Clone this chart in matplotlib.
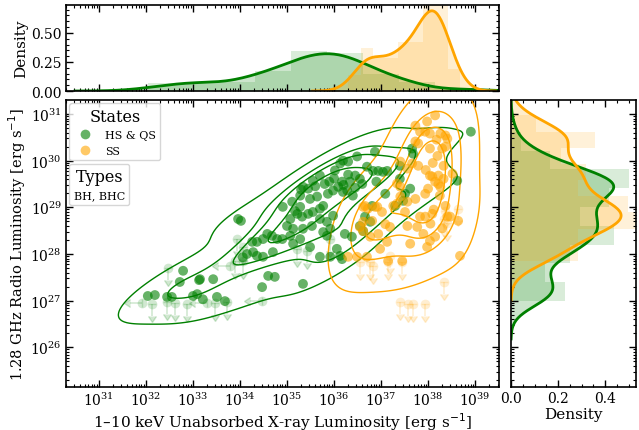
import numpy as np
import matplotlib
matplotlib.use("Agg")
import matplotlib.pyplot as plt
import seaborn as sns
from matplotlib.lines import Line2D

plt.rcParams['font.family'] = ['DejaVu Serif']
plt.rcParams['xtick.direction'] = 'in'
plt.rcParams['ytick.direction'] = 'in'
plt.rcParams['xtick.top'] = True
plt.rcParams['ytick.right'] = True
plt.rcParams['xtick.minor.visible'] = True
plt.rcParams['ytick.minor.visible'] = True

# log10 luminosities
# HS & QS detections
hs_lx = [38.91, 36.87, 37.66, 37.68, 36.19, 36.49, 36.70, 36.83, 36.94, 37.04, 37.13, 36.55, 36.34,
         36.19, 36.40, 37.40, 37.09, 37.62, 37.51, 38.62, 37.40, 36.23, 36.38, 36.55, 36.62, 36.77,
         36.66, 36.81, 37.30, 37.47, 36.17, 33.96, 34.02, 34.91, 35.11, 35.17, 35.28, 35.34, 35.45,
         35.55, 35.70, 35.87, 35.98, 36.09, 36.17, 36.28, 36.02, 36.13, 36.30, 36.45, 35.07, 35.22,
         35.32, 35.45, 35.55, 35.70, 35.77, 35.64, 35.49, 35.00, 35.13, 35.34, 35.53, 35.70, 35.85,
         35.98, 35.92, 34.58, 34.68, 34.79, 34.49, 34.36, 34.26, 34.90, 35.07, 35.13, 35.28, 34.15,
         34.28, 35.49, 35.85, 36.06, 35.92, 34.06, 34.36, 34.49, 34.70, 35.28, 35.77, 35.70, 36.13,
         34.60, 34.74, 34.47, 35.34, 33.51, 33.43, 33.15, 32.79, 32.72, 33.68, 33.00, 33.09, 33.21,
         32.45, 32.55, 33.13, 32.04, 32.19,
         35.90, 36.00, 36.30, 36.60, 35.60, 36.20, 35.80, 36.90, 36.45, 35.30]
hs_ly = [30.62, 30.19, 30.26, 30.15, 30.00, 30.09, 29.87, 29.78, 29.78, 29.76, 29.78, 29.61, 29.55,
         29.33, 29.25, 29.61, 29.29, 29.40, 29.29, 29.57, 29.89, 28.43, 28.37, 28.60, 28.49, 28.69,
         28.80, 29.03, 29.03, 29.14, 27.89, 28.75, 28.71, 29.01, 29.12, 28.92, 29.25, 29.44, 29.40,
         29.57, 29.68, 29.29, 29.36, 29.44, 29.55, 29.36, 29.79, 29.94, 29.98, 29.68, 28.75, 28.86,
         28.80, 28.86, 28.90, 28.97, 29.03, 29.23, 29.18, 28.60, 28.54, 28.54, 28.60, 28.75, 28.69,
         28.82, 28.54, 28.43, 28.39, 28.32, 28.32, 28.26, 28.26, 28.32, 28.39, 28.22, 28.32, 28.00,
         28.04, 28.15, 28.39, 28.11, 27.94, 27.93, 27.96, 27.94, 28.04, 29.01, 28.47, 27.94, 27.96,
         27.53, 27.51, 27.29, 27.36, 27.08, 27.46, 27.46, 27.64, 27.40, 26.99, 27.10, 27.14, 27.03,
         27.08, 27.08, 27.44, 27.10, 27.12,
         29.55, 29.62, 29.70, 29.50, 29.45, 29.48, 29.50, 29.55, 29.42, 29.38]
# HS & QS radio upper limits
hs_ul_lx = [32.47, 32.13, 32.45, 32.62, 32.87, 33.47, 33.72, 33.94, 33.89, 34.06, 34.06, 35.21, 35.43, 35.92]
hs_ul_ly = [27.70, 26.93, 26.97, 26.95, 26.93, 26.95, 26.97, 28.32, 27.85, 27.85, 28.15, 28.11, 28.06, 28.32]
# HS & QS X-ray upper limits
hs_xl_lx = [31.92, 33.30, 33.79, 34.47]
hs_xl_ly = [26.95, 26.95, 27.74, 26.99]

# SS detections
ss_lx = [38.15, 37.98, 37.73, 37.94, 38.04, 38.26, 38.37, 38.41, 37.73, 37.79, 38.37, 38.04, 37.41,
         37.66, 37.79, 38.33, 38.04, 38.09, 38.22, 38.33, 38.52, 38.15, 37.34, 37.94, 37.56, 37.34,
         37.41, 36.87, 36.62, 36.72, 37.02, 37.51, 37.83, 37.94, 38.09, 38.41, 38.64, 36.81, 36.62,
         37.19, 37.56, 37.77, 37.90, 38.04, 38.15, 36.62, 36.55, 36.77, 36.94, 37.13, 37.62, 37.98,
         36.49, 36.70, 37.15, 37.45, 38.68, 36.30, 36.66, 36.92, 37.09, 36.98, 38.37, 38.47, 37.83,
         38.30, 37.56, 37.41, 37.26, 37.73, 38.26,
         38.10, 38.20, 38.00, 38.25, 38.12, 38.30, 37.95, 38.18, 38.05, 38.22]
ss_ly = [30.97, 30.84, 30.75, 30.62, 30.58, 30.58, 30.54, 30.47, 30.41, 30.37, 30.30, 30.26, 29.98,
         29.94, 29.89, 29.89, 29.68, 29.66, 29.68, 29.61, 29.72, 29.55, 29.51, 29.29, 29.12, 29.08,
         29.23, 29.01, 29.01, 28.97, 28.90, 28.90, 28.80, 28.80, 28.86, 28.80, 28.71, 28.71, 28.69,
         28.58, 28.60, 28.58, 28.43, 28.28, 28.37, 28.49, 28.58, 28.37, 28.43, 28.26, 28.22, 28.15,
         27.94, 27.94, 27.85, 27.85, 27.96, 27.94, 29.03, 29.01, 28.64, 28.11, 29.03, 28.80, 30.62,
         30.26, 29.83, 29.44, 29.03, 29.18, 29.44,
         29.95, 30.10, 29.40, 29.25, 28.95, 28.55, 29.80, 30.45, 28.65, 29.50]
# SS radio upper limits
ss_ul_lx = [36.55, 36.77, 36.83, 37.15, 37.45, 37.19, 38.33, 37.41, 37.58, 37.68, 37.94, 38.33, 38.64, 38.37, 38.41]
ss_ul_ly = [27.83, 27.83, 27.74, 27.83, 27.83, 27.96, 27.40, 26.97, 26.93, 26.93, 26.93, 28.75, 28.97, 28.92, 28.66]

states = ['HS & QS', 'SS']
colors = ['green', 'orange']
contour_bw = [1.0, 1.35]

fig = plt.figure(figsize=(6.39, 4.31), dpi=100)
ax = fig.add_axes([0.1033, 0.0998, 0.6777, 0.6659])
ax_top = fig.add_axes([0.1033, 0.7865, 0.6777, 0.1995])
ax_r = fig.add_axes([0.7997, 0.0998, 0.1953, 0.6659])

xlim = (10**30.3, 10**39.51)
ylim = (10**25.15, 10**31.3)

groups = [
    (hs_lx, hs_ly, hs_ul_lx, hs_ul_ly, hs_xl_lx, hs_xl_ly),
    (ss_lx, ss_ly, ss_ul_lx, ss_ul_ly, [], []),
]

for (lx, ly, ulx, uly, xlx, xly), c, lab, bw in zip(groups, colors, states, contour_bw):
    X = 10**np.array(lx)
    Y = 10**np.array(ly)
    # upper limits
    if ulx:
        ux, uy = 10**np.array(ulx), 10**np.array(uly)
        ax.errorbar(ux, uy, yerr=uy * (1 - 10**-0.25), uplims=True, fmt='o', ms=7,
                    color=c, alpha=0.18, capsize=3, elinewidth=1.2, mec='none')
    if xlx:
        ux, uy = 10**np.array(xlx), 10**np.array(xly)
        ax.errorbar(ux, uy, xerr=ux * (1 - 10**-0.25), xuplims=True, fmt='o', ms=7,
                    color=c, alpha=0.18, capsize=3, elinewidth=1.2, mec='none')
    ax.scatter(X, Y, s=50, color=c, alpha=0.6, edgecolors='none', label=lab, zorder=3)
    sns.kdeplot(x=X, y=Y, ax=ax, log_scale=True, levels=5, color=c, linewidths=1,
                bw_adjust=bw)

    # marginals
    sns.histplot(x=X, ax=ax_top, log_scale=True, stat='density', bins=9, color=c,
                 alpha=0.15, edgecolor='none')
    sns.kdeplot(x=X, ax=ax_top, log_scale=True, color=c, fill=True, alpha=0.2, linewidth=0)
    sns.kdeplot(x=X, ax=ax_top, log_scale=True, color=c, linewidth=2)
    sns.histplot(y=Y, ax=ax_r, log_scale=True, stat='density', bins=9, color=c,
                 alpha=0.15, edgecolor='none')
    sns.kdeplot(y=Y, ax=ax_r, log_scale=True, color=c, fill=True, alpha=0.2, linewidth=0,
                bw_adjust=0.8)
    sns.kdeplot(y=Y, ax=ax_r, log_scale=True, color=c, linewidth=2, bw_adjust=0.8)

ax.set_xscale('log')
ax.set_yscale('log')
ax.set_xlim(xlim)
ax.set_ylim(ylim)
ax.set_xlabel('1–10 keV Unabsorbed X-ray Luminosity [erg s$^{-1}$]', fontsize=11, labelpad=1)
ax.set_ylabel('1.28 GHz Radio Luminosity [erg s$^{-1}$]', fontsize=10.5, labelpad=2)
ax.xaxis.set_major_locator(matplotlib.ticker.LogLocator(base=10, numticks=20))
ax.xaxis.set_minor_locator(matplotlib.ticker.LogLocator(base=10, subs=np.arange(2, 10), numticks=20))

ax_top.set_xscale('log')
ax_top.set_xlim(xlim)
ax_top.set_ylim(0, 0.74)
ax_top.set_yticks([0, 0.25, 0.5])
ax_top.set_ylabel('Density', fontsize=11, labelpad=2)
ax_top.set_xlabel('')
ax_top.xaxis.set_major_locator(matplotlib.ticker.LogLocator(base=10, numticks=20))
ax_top.xaxis.set_minor_locator(matplotlib.ticker.LogLocator(base=10, subs=np.arange(2, 10), numticks=20))
ax_top.tick_params(labelbottom=False)

ax_r.set_yscale('log')
ax_r.set_ylim(ylim)
ax_r.set_xlim(0, 0.53)
ax_r.set_xticks([0, 0.2, 0.4])
ax_r.set_xlabel('Density', fontsize=11, labelpad=1)
ax_r.set_ylabel('')
ax_r.tick_params(labelleft=False)

for a in (ax, ax_top, ax_r):
    a.tick_params(which='major', length=5, width=1, labelsize=10, pad=3)
    a.tick_params(which='minor', length=2.5, width=0.8)
    for s in a.spines.values():
        s.set_linewidth(1.2)

h = [Line2D([], [], marker='o', ls='none', ms=7, color=c, alpha=0.6, mec='none') for c in colors]
leg1 = ax.legend(h, states, title='States', loc='upper left', fontsize=8,
                 title_fontsize=11.5, borderaxespad=0.3)
ax.add_artist(leg1)
ax.legend([Line2D([], [], ls='none')], ['BH, BHC'], title='Types', loc='upper left',
          bbox_to_anchor=(0.0, 0.79), fontsize=8, title_fontsize=11.5,
          handlelength=0, handletextpad=0, borderaxespad=0.3)

fig.savefig('out.png', dpi=100)
